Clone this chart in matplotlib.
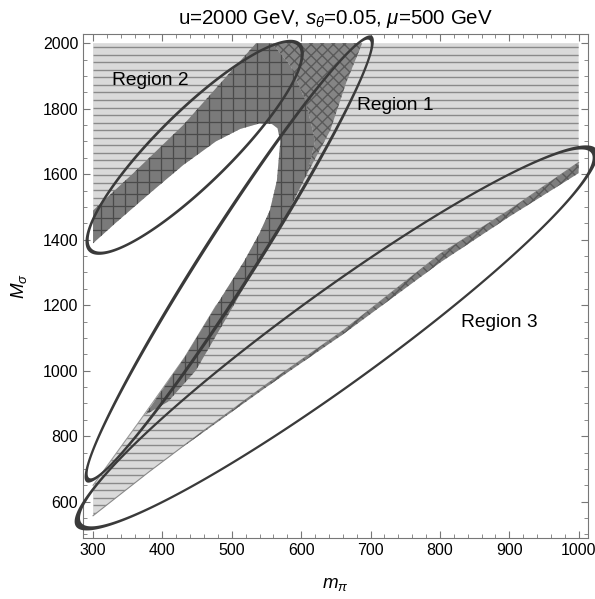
import numpy as np
import matplotlib.pyplot as plt
from matplotlib.patches import Polygon

plt.rcParams['font.family'] = ['Liberation Sans', 'DejaVu Sans']
plt.rcParams['mathtext.fontset'] = 'custom'
plt.rcParams['mathtext.rm'] = 'Liberation Sans'
plt.rcParams['mathtext.it'] = 'Liberation Sans:italic'

# lower edge of the allowed (light) region, (m_pi, M_sigma)
low_mpi = [300, 380, 454, 550, 661, 801, 900, 1000]
low_ms = [557, 690, 808, 958, 1123, 1357, 1490, 1636]
# thin dark strip along that edge
strip_top_mpi = [430, 454, 550, 661, 801, 900, 1000]
strip_top_ms = [770, 808, 958, 1123, 1357, 1490, 1636]
strip_bot_mpi = [430, 550, 661, 801, 900, 1000]
strip_bot_ms = [768, 950, 1112, 1331, 1470, 1603]

# white tongue (excluded area) inside the upper left
tongue_left_mpi = [300, 333, 382, 430, 477, 512, 540, 558]
tongue_left_ms = [1389, 1452, 1542, 1628, 1700, 1738, 1755, 1753]
tongue_right_mpi = [566, 570, 565, 555, 540, 518, 478, 432, 365, 300]
tongue_right_ms = [1740, 1700, 1580, 1490, 1420, 1335, 1200, 1040, 840, 650]

# dark band (square grid)
band_ul_mpi = [300, 358, 430, 535]
band_ul_ms = [1489, 1603, 1750, 2000]
arc_mpi = [558, 585, 605, 615, 620, 609]
arc_ms = [2000, 1930, 1830, 1750, 1700, 1603]
band_r_mpi = [580, 540, 492, 448, 408, 375]
band_r_ms = [1480, 1337, 1160, 1000, 905, 865]
# fine cross-hatched wedge at the top
fine_r_mpi = [688, 665, 642, 609]
fine_r_ms = [2000, 1880, 1734, 1603]

# ellipses: centre (m_pi, M_sigma), semi axes in pixels, angle
ell_cx = [496.3, 446.5, 650.7]
ell_cy = [1341, 1682, 1100]
ell_a = [262.4, 146.5, 318.2]
ell_b = [26.2, 36.5, 46.1]
ell_ang = [57.4, 44.5, 35.95]
ell_side = [3.3, 2.7, 2.3]   # stroke width on the long sides, px
ell_end = [5.0, 4.0, 6.5]    # stroke width at the tips, px

labels = ['Region 1', 'Region 2', 'Region 3']
label_x = [736, 382, 886]
label_y = [1810, 1887, 1148]

xlim = (285.5, 1013.5)
ylim = (489, 2028)

W, H = 595, 599
fig = plt.figure(figsize=(W / 100, H / 100), dpi=100)
ax = fig.add_axes([83 / W, 61 / H, 505 / W, 504 / H])
ax.set_xlim(*xlim)
ax.set_ylim(*ylim)

# whole coloured region
outer = ([(300, 557)] + list(zip(low_mpi, low_ms))[1:] + [(1000, 2000), (300, 2000)]
         + list(zip(tongue_left_mpi, tongue_left_ms))
         + list(zip(tongue_right_mpi, tongue_right_ms)))
light = Polygon(outer, closed=True, facecolor='#dadada', edgecolor='none', zorder=1)
ax.add_patch(light)
hl = ax.hlines(np.arange(1987, 540, -22.93), 300, 1000, colors='#8a8a8a', linewidth=1.0, zorder=2)
hl.set_clip_path(light)
ax.plot(low_mpi, low_ms, color='#8a8a8a', lw=0.8, zorder=2)
ax.plot(tongue_right_mpi[-4:], tongue_right_ms[-4:], color='#9a9a9a', lw=0.8, zorder=2)

# square grid band
band = ([(300, 1389)] + list(zip(band_ul_mpi, band_ul_ms)) + list(zip(arc_mpi, arc_ms))
        + list(zip(band_r_mpi, band_r_ms))
        + list(zip(tongue_right_mpi, tongue_right_ms))[::-1][2:]
        + list(zip(tongue_left_mpi, tongue_left_ms))[::-1])
bandp = Polygon(band, closed=True, facecolor='#7a7a7a', edgecolor='none', zorder=3)
ax.add_patch(bandp)
gv = ax.vlines(np.arange(294.2, 700, 17.3), 500, 2000, colors='#4a4a4a', linewidth=0.9, zorder=4)
gv.set_clip_path(bandp)
gh = ax.hlines(np.arange(548, 2000, 36.7), 290, 700, colors='#4a4a4a', linewidth=0.9, zorder=4)
gh.set_clip_path(bandp)

# fine cross hatch wedge
fine = list(zip(arc_mpi, arc_ms)) + list(zip(fine_r_mpi, fine_r_ms))[::-1][1:]
ax.add_patch(Polygon(fine, closed=True, facecolor='#858585', edgecolor='#5a5a5a',
                     linewidth=0, hatch='xxx', zorder=3))

# dark strip along lower edge
strip = list(zip(strip_top_mpi, strip_top_ms)) + list(zip(strip_bot_mpi, strip_bot_ms))[::-1]
ax.add_patch(Polygon(strip, closed=True, facecolor='#7e7e7e', edgecolor='#5a5a5a',
                     linewidth=0, hatch='xxx', zorder=3))

# ellipses, drawn as rings in pixel space (thicker at the tips)
sx = 505 / (xlim[1] - xlim[0])
sy = 504 / (ylim[1] - ylim[0])
t = np.linspace(0, 2 * np.pi, 500)


def ellipse_xy(cx, cy, a, b, th):
    dx = a * np.cos(t) * np.cos(th) - b * np.sin(t) * np.sin(th)
    dy = a * np.cos(t) * np.sin(th) + b * np.sin(t) * np.cos(th)
    return cx + dx / sx, cy + dy / sy


for cx, cy, a, b, ang, ws, we in zip(ell_cx, ell_cy, ell_a, ell_b, ell_ang, ell_side, ell_end):
    th = np.radians(ang)
    xo, yo = ellipse_xy(cx, cy, a + we / 2, b + ws / 2, th)
    xi, yi = ellipse_xy(cx, cy, a - we / 2, b - ws / 2, th)
    ax.fill(np.concatenate([xo, xi[::-1]]), np.concatenate([yo, yi[::-1]]),
            color='#3a3a3a', lw=0, zorder=5, clip_on=False)

for s, x, y in zip(labels, label_x, label_y):
    ax.text(x, y, s, fontsize=13.8, ha='center', va='center', zorder=6)

ax.set_title(r'u=2000 GeV, $s_\theta$=0.05, $\mu$=500 GeV', fontsize=14.8, pad=7)
ax.set_xlabel(r'$m_\pi$', fontsize=13.5, labelpad=13)
ax.set_ylabel(r'$M_\sigma$', fontsize=13.5, labelpad=10)

ax.set_xticks(range(300, 1001, 100))
ax.set_xticks(range(300, 1001, 20), minor=True)
ax.set_yticks(range(600, 2001, 200))
ax.set_yticks(range(500, 2001, 50), minor=True)
ax.tick_params(which='both', direction='in', top=True, right=True, color='#777777',
               labelsize=11.5)
ax.tick_params(which='major', length=5)
ax.tick_params(which='minor', length=3)
for sp in ax.spines.values():
    sp.set_color('#777777')

fig.savefig('out.png', dpi=100)
